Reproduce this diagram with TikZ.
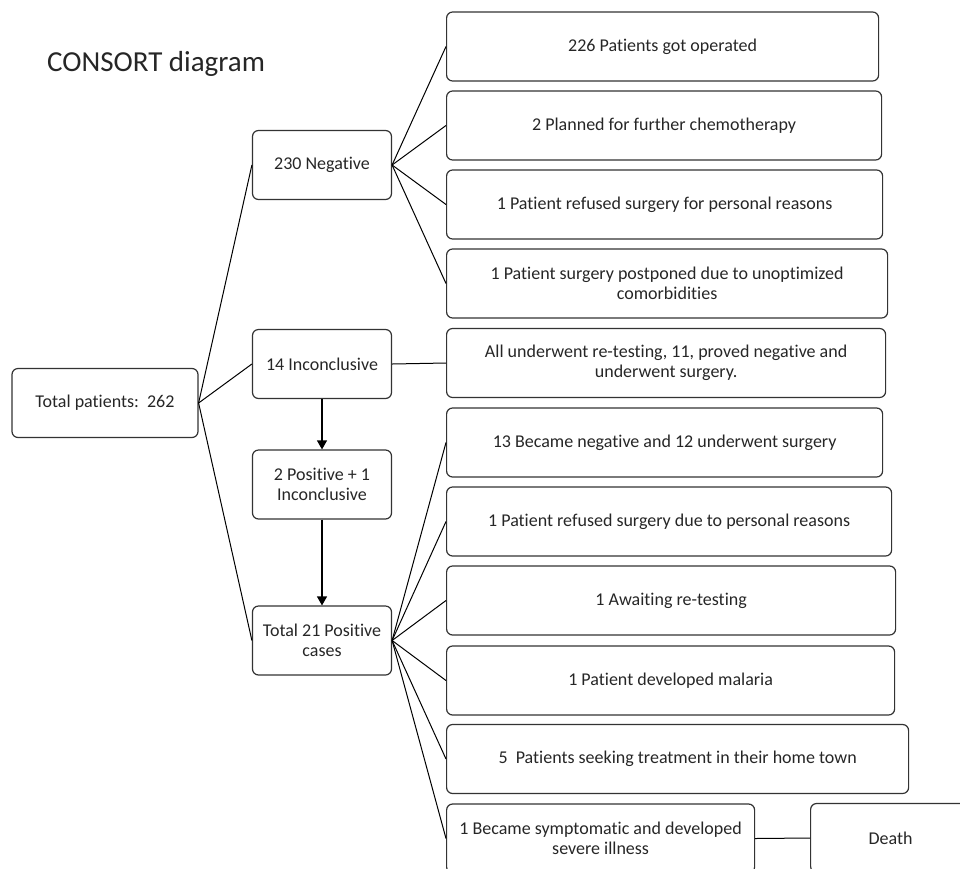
\documentclass[tikz,border=0pt]{standalone}
\usepackage{fontspec}
\setmainfont{Carlito}[Ligatures=NoCommon]
\usetikzlibrary{arrows.meta}
\begin{document}
\begin{tikzpicture}[x=1pt,y=-1pt,
  box/.style={draw=black!80,line width=1.2pt,rounded corners=6pt,align=center,
    minimum height=69pt,inner sep=2pt,font=\fontsize{18}{19.7}\selectfont,text=black!85},
  link/.style={line width=1pt},
  flow/.style={line width=1.2pt,-{Triangle[width=10pt,length=9pt]}}]
\clip (0,0) rectangle (960,868);
\node[anchor=base west,inner sep=0pt,font=\fontsize{29}{34}\selectfont,text=black!85] (title) at (47,71) {CONSORT diagram};
% left column
\node[box,minimum width=186pt] (total) at (105,403) {Total patients:\ \ 262};
\node[box,minimum width=139pt] (neg) at (322,165) {230 Negative};
\node[box,minimum width=139pt] (inc) at (322,364) {14 Inconclusive};
\node[box,minimum width=139pt] (pos3) at (322,484.5) {2 Positive + 1\\Inconclusive};
\node[box,minimum width=139pt] (pos21) at (322,640.5) {Total 21 Positive\\cases};
% right column
\node[box,anchor=west,minimum width=432pt] (oper) at (446,46.5) {226 Patients got operated};
\node[box,anchor=west,minimum width=435pt] (chemo) at (446,125.5) {2 Planned for further chemotherapy};
\node[box,anchor=west,minimum width=436pt] (refneg) at (446,204.5) {1 Patient refused surgery for personal reasons};
\node[box,anchor=west,minimum width=441pt] (postp) at (446,283.5) {1 Patient surgery postponed due to unoptimized\\comorbidities};
\node[box,anchor=west,minimum width=439pt] (retest) at (446,363) {All underwent re-testing, 11, proved negative and\\underwent surgery.};
\node[box,anchor=west,minimum width=436pt] (becneg) at (446,442.5) {13 Became negative and 12 underwent surgery};
\node[box,anchor=west,minimum width=445pt] (refpos) at (446,521.5) {1 Patient refused surgery due to personal reasons};
\node[box,anchor=west,minimum width=449pt] (await) at (446,600.5) {1 Awaiting re-testing};
\node[box,anchor=west,minimum width=448pt] (malaria) at (446,680.5) {1 Patient developed malaria};
\node[box,anchor=west,minimum width=462pt] (home) at (446,759) {5\ \ Patients seeking treatment in their home town};
\node[box,anchor=west,minimum width=308pt] (sympt) at (446,838.5) {1 Became symptomatic and developed\\severe illness};
\node[box,anchor=west,minimum width=160pt] (death) at (810,838) {Death};
% connectors
\draw[link] (total.east) -- (neg.west);
\draw[link] (total.east) -- (inc.west);
\draw[link] (total.east) -- (pos21.west);
\foreach \n in {oper,chemo,refneg,postp}
  \draw[link] (neg.east) -- (\n.west);
\draw[link] (inc.east) -- (retest.west);
\foreach \n in {becneg,refpos,await,malaria,home,sympt}
  \draw[link] (pos21.east) -- (\n.west);
\draw[link] (sympt.east) -- (death.west);
\draw[flow] (inc.south) -- (pos3.north);
\draw[flow] (pos3.south) -- (pos21.north);
\end{tikzpicture}
\end{document}
